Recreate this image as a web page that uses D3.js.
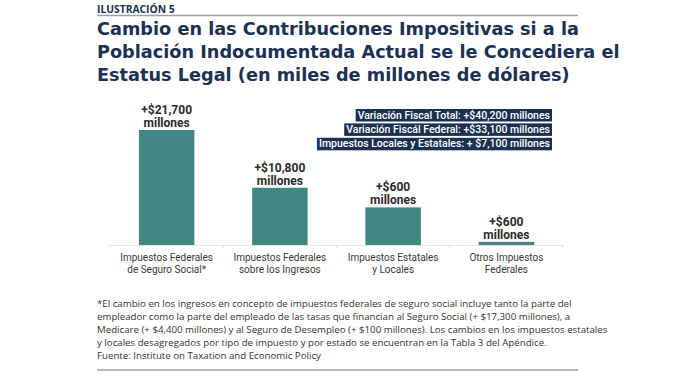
<!DOCTYPE html>
<html>
<head>
<meta charset="utf-8">
<script src="https://cdn.jsdelivr.net/npm/d3@7"></script>
<style>
  body { margin: 0; background: #fff; }
  svg { display: block; }
</style>
</head>
<body>
<svg id="chart" width="675" height="374"></svg>
<script>
// data
const categories = [
    ['Impuestos Federales', 'de Seguro Social*'],
    ['Impuestos Federales', 'sobre los Ingresos'],
    ['Impuestos Estatales', 'y Locales'],
    ['Otros Impuestos', 'Federales'],
];
const values = [21700, 10800, 7100, 600];
const valueLabels = ['+$21,700', '+$10,800', '+$600', '+$600'];
const summaryLines = [
    'Variación Fiscal Total: +$40,200 millones',
    'Variación Fiscál Federal: +$33,100 millones',
    'Impuestos Locales y Estatales: + $7,100 millones',
];
const titleLines = [
    'Cambio en las Contribuciones Impositivas si a la',
    'Población Indocumentada Actual se le Concediera el',
    'Estatus Legal (en miles de millones de dólares)',
];
const footnoteLines = [
    '*El cambio en los ingresos en concepto de impuestos federales de seguro social incluye tanto la parte del',
    'empleador como la parte del empleado de las tasas que financian al Seguro Social (+ $17,300 millones), a',
    'Medicare (+ $4,400 millones) y al Seguro de Desempleo (+ $100 millones). Los cambios en los impuestos estatales',
    'y locales desagregados por tipo de impuesto y por estado se encuentran en la Tabla 3 del Apéndice.',
    'Fuente: Institute on Taxation and Economic Policy',
];

const NAVY = '#1b3152';
const TEAL = '#428784';
const LEFT = 97, RIGHT = 578;

const svg = d3.select('#chart');

// header
svg.append('text')
    .attr('x', LEFT).attr('y', 13)
    .attr('font-family', 'Open Sans, sans-serif')
    .attr('font-size', 10.3).attr('font-weight', 700)
    .attr('fill', NAVY)
    .text('ILUSTRACIÓN 5');

svg.append('line')
    .attr('x1', LEFT).attr('x2', RIGHT)
    .attr('y1', 15.5).attr('y2', 15.5)
    .attr('stroke', '#9aa0a8').attr('stroke-width', 1.5);

svg.append('g')
    .selectAll('text')
    .data(titleLines)
    .join('text')
    .attr('x', LEFT)
    .attr('y', (d, i) => 35 + i * 23)
    .attr('font-family', 'DejaVu Sans, sans-serif')
    .attr('font-size', 17.7).attr('font-weight', 700)
    .attr('fill', NAVY)
    .text(d => d);

// bars
const baseline = 245;
const x = d3.scaleBand()
    .domain(d3.range(categories.length))
    .range([110, 563])
    .paddingInner(0.51)
    .paddingOuter(0.255);

const y = d3.scaleLinear()
    .domain([0, 21700])
    .range([baseline, 130]);

const plot = svg.append('g');

plot.selectAll('rect.bar')
    .data(values)
    .join('rect')
    .attr('class', 'bar')
    .attr('x', (d, i) => x(i))
    .attr('width', x.bandwidth())
    .attr('y', d => y(d))
    .attr('height', d => baseline - y(d))
    .attr('fill', TEAL);

// axis line and separators
plot.append('line')
    .attr('x1', 110).attr('x2', 563)
    .attr('y1', baseline + 0.5).attr('y2', baseline + 0.5)
    .attr('stroke', '#e3e3e3');

plot.selectAll('line.sep')
    .data(d3.range(categories.length + 1))
    .join('line')
    .attr('class', 'sep')
    .attr('x1', i => 110 + i * x.step()).attr('x2', i => 110 + i * x.step())
    .attr('y1', baseline).attr('y2', baseline + 4)
    .attr('stroke', '#e3e3e3');

// value labels
const labels = plot.selectAll('text.val')
    .data(values)
    .join('text')
    .attr('class', 'val')
    .attr('text-anchor', 'middle')
    .attr('font-family', 'Roboto, sans-serif')
    .attr('font-size', 12).attr('font-weight', 700)
    .attr('fill', '#2b2b2b');

labels.append('tspan')
    .attr('x', (d, i) => x(i) + x.bandwidth() / 2)
    .attr('y', d => y(d) - 16)
    .text((d, i) => valueLabels[i]);
labels.append('tspan')
    .attr('x', (d, i) => x(i) + x.bandwidth() / 2)
    .attr('y', d => y(d) - 3)
    .text('millones');

// category labels
const cats = plot.selectAll('text.cat')
    .data(categories)
    .join('text')
    .attr('class', 'cat')
    .attr('text-anchor', 'middle')
    .attr('font-family', 'Roboto, sans-serif')
    .attr('font-size', 10)
    .attr('fill', '#3a3a3a');

cats.selectAll('tspan')
    .data((d, i) => d.map(t => ({ t, i })))
    .join('tspan')
    .attr('x', d => x(d.i) + x.bandwidth() / 2)
    .attr('y', (d, j) => 260.5 + j * 12)
    .text(d => d.t);

// summary boxes
const boxRight = 552;
const summary = svg.append('g')
    .selectAll('g')
    .data(summaryLines)
    .join('g')
    .attr('transform', (d, i) => `translate(0, ${109 + i * 14.4})`);

summary.append('text')
    .attr('x', boxRight - 2)
    .attr('y', 9.5)
    .attr('text-anchor', 'end')
    .attr('font-family', 'Roboto, sans-serif')
    .attr('font-size', 10.5).attr('font-weight', 500)
    .attr('fill', '#fff')
    .text(d => d);

summary.insert('rect', 'text')
    .attr('fill', NAVY)
    .each(function () {
        const bb = d3.select(this.parentNode).select('text').node().getBBox();
        d3.select(this)
            .attr('x', bb.x - 2)
            .attr('y', 0)
            .attr('width', bb.width + 4)
            .attr('height', 12.5);
    });

// footnote
svg.append('g')
    .selectAll('text')
    .data(footnoteLines)
    .join('text')
    .attr('x', LEFT)
    .attr('y', (d, i) => 306.5 + i * 13.2)
    .attr('font-family', 'Open Sans, sans-serif')
    .attr('font-size', 9.7)
    .attr('fill', '#333')
    .text(d => d);

svg.append('line')
    .attr('x1', LEFT).attr('x2', RIGHT)
    .attr('y1', 370).attr('y2', 370)
    .attr('stroke', '#9aa0a8').attr('stroke-width', 1.5);
</script>
</body>
</html>
